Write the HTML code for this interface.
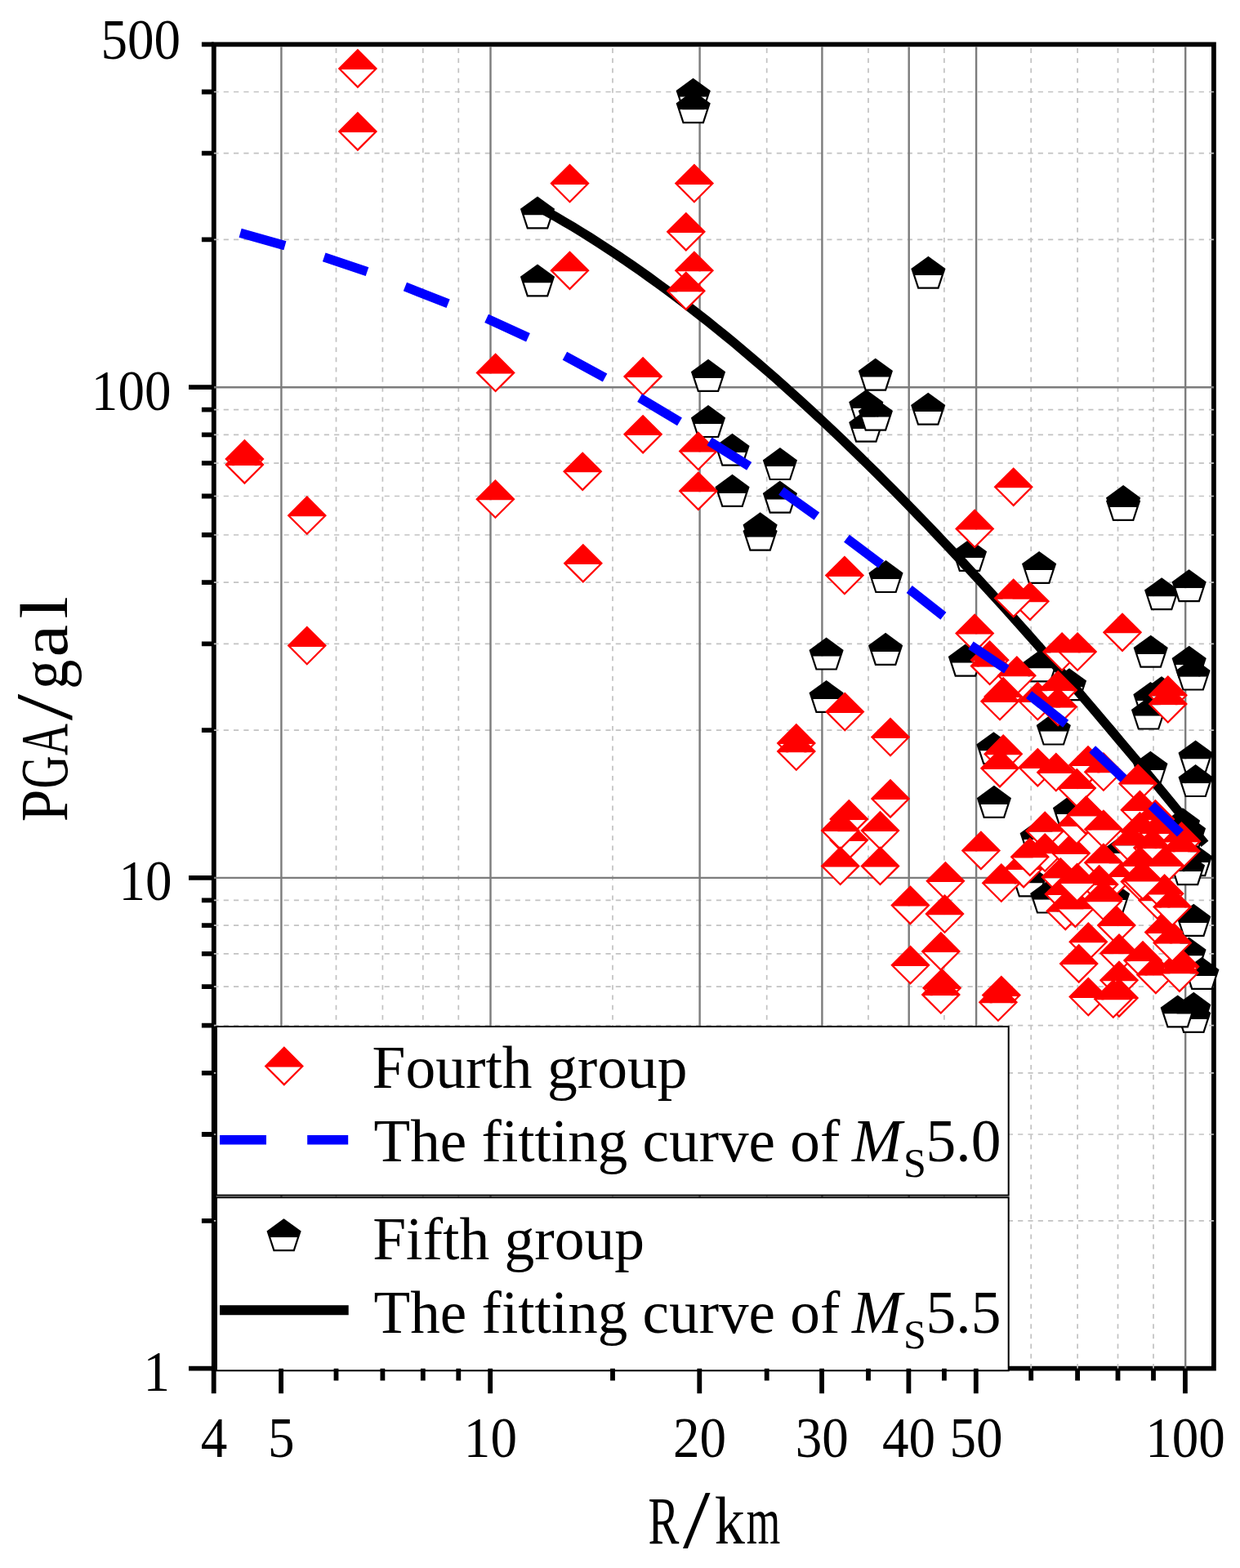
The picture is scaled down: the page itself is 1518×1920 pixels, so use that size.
<!DOCTYPE html><html><head><meta charset="utf-8"><title>PGA vs R</title><style>html,body{margin:0;padding:0;background:#fff;}svg{display:block;}text{font-family:"Liberation Serif","Noto Serif CJK SC",serif;fill:#000;}</style></head><body>
<svg width="1518" height="1920" viewBox="0 0 1518 1920">
<rect width="1518" height="1920" fill="#fff"/>
<path d="M261.8 54.3H1485.9V1675.7H261.8Z" fill="none" stroke="#000" stroke-width="5.8" stroke-linejoin="miter"/>
<path d="M411.5 59.1V1675.7M468.4 59.1V1675.7M517.8 59.1V1675.7M561.3 59.1V1675.7M750 59.1V1675.7M938.7 59.1V1675.7M1063 59.1V1675.7M1155.9 59.1V1675.7M1262.2 59.1V1675.7M1319.1 59.1V1675.7M1368.5 59.1V1675.7M1412 59.1V1675.7" stroke="#c2c2c2" stroke-width="1.7" stroke-dasharray="5.8 6.404" fill="none"/>
<path d="M261.4 1494.8H1485.9M261.4 1389H1485.9M261.4 1313.9H1485.9M261.4 1255.7H1485.9M261.4 1208.2H1485.9M261.4 1167.9H1485.9M261.4 1133.1H1485.9M261.4 1102.4H1485.9M261.4 894.1H1485.9M261.4 788.3H1485.9M261.4 713.2H1485.9M261.4 655H1485.9M261.4 607.5H1485.9M261.4 567.2H1485.9M261.4 532.4H1485.9M261.4 501.7H1485.9M261.4 293.4H1485.9M261.4 187.6H1485.9M261.4 112.5H1485.9" stroke="#c2c2c2" stroke-width="1.7" stroke-dasharray="6.2 6.109" fill="none"/>
<path d="M344.4 57.2V1675.7M600.5 57.2V1675.7M856.6 57.2V1675.7M1006.4 57.2V1675.7M1112.7 57.2V1675.7M1195.1 57.2V1675.7M1451.2 57.2V1675.7M261.8 1074.9H1485.9M261.8 474.2H1485.9" stroke="#7c7c7c" stroke-width="2.4" fill="none"/>
<g>
<path d="M1136.4 315.1L1116.6 329.5L1119 336.9L1153.8 336.9L1156.2 329.5Z" fill="#000"/><path d="M1119 336.9L1124.2 352.7L1148.6 352.7L1153.8 336.9Z" fill="#fff"/><path d="M1136.4 315.1L1116.6 329.5L1124.2 352.7L1148.6 352.7L1156.2 329.5Z" fill="none" stroke="#000" stroke-width="2.2" stroke-linejoin="miter"/>
<path d="M848.7 97L828.9 111.4L831.3 118.8L866.1 118.8L868.5 111.4Z" fill="#000"/><path d="M831.3 118.8L836.5 134.6L860.9 134.6L866.1 118.8Z" fill="#fff"/><path d="M848.7 97L828.9 111.4L836.5 134.6L860.9 134.6L868.5 111.4Z" fill="none" stroke="#000" stroke-width="2.2" stroke-linejoin="miter"/>
<path d="M848.7 112.5L828.9 126.9L831.3 134.3L866.1 134.3L868.5 126.9Z" fill="#000"/><path d="M831.3 134.3L836.5 150.1L860.9 150.1L866.1 134.3Z" fill="#fff"/><path d="M848.7 112.5L828.9 126.9L836.5 150.1L860.9 150.1L868.5 126.9Z" fill="none" stroke="#000" stroke-width="2.2" stroke-linejoin="miter"/>
<path d="M658 241.8L638.2 256.2L640.6 263.6L675.4 263.6L677.8 256.2Z" fill="#000"/><path d="M640.6 263.6L645.8 279.4L670.2 279.4L675.4 263.6Z" fill="#fff"/><path d="M658 241.8L638.2 256.2L645.8 279.4L670.2 279.4L677.8 256.2Z" fill="none" stroke="#000" stroke-width="2.2" stroke-linejoin="miter"/>
<path d="M658 324.8L638.2 339.2L640.6 346.6L675.4 346.6L677.8 339.2Z" fill="#000"/><path d="M640.6 346.6L645.8 362.4L670.2 362.4L675.4 346.6Z" fill="#fff"/><path d="M658 324.8L638.2 339.2L645.8 362.4L670.2 362.4L677.8 339.2Z" fill="none" stroke="#000" stroke-width="2.2" stroke-linejoin="miter"/>
<path d="M867 441.2L847.2 455.6L849.6 463L884.4 463L886.8 455.6Z" fill="#000"/><path d="M849.6 463L854.8 478.8L879.2 478.8L884.4 463Z" fill="#fff"/><path d="M867 441.2L847.2 455.6L854.8 478.8L879.2 478.8L886.8 455.6Z" fill="none" stroke="#000" stroke-width="2.2" stroke-linejoin="miter"/>
<path d="M867 497.4L847.2 511.8L849.6 519.2L884.4 519.2L886.8 511.8Z" fill="#000"/><path d="M849.6 519.2L854.8 535L879.2 535L884.4 519.2Z" fill="#fff"/><path d="M867 497.4L847.2 511.8L854.8 535L879.2 535L886.8 511.8Z" fill="none" stroke="#000" stroke-width="2.2" stroke-linejoin="miter"/>
<path d="M896.5 532.1L876.7 546.5L879.1 553.9L913.9 553.9L916.3 546.5Z" fill="#000"/><path d="M879.1 553.9L884.3 569.7L908.7 569.7L913.9 553.9Z" fill="#fff"/><path d="M896.5 532.1L876.7 546.5L884.3 569.7L908.7 569.7L916.3 546.5Z" fill="none" stroke="#000" stroke-width="2.2" stroke-linejoin="miter"/>
<path d="M896.5 582.2L876.7 596.6L879.1 604L913.9 604L916.3 596.6Z" fill="#000"/><path d="M879.1 604L884.3 619.8L908.7 619.8L913.9 604Z" fill="#fff"/><path d="M896.5 582.2L876.7 596.6L884.3 619.8L908.7 619.8L916.3 596.6Z" fill="none" stroke="#000" stroke-width="2.2" stroke-linejoin="miter"/>
<path d="M954.9 549.4L935.1 563.8L937.5 571.2L972.3 571.2L974.7 563.8Z" fill="#000"/><path d="M937.5 571.2L942.7 587L967.1 587L972.3 571.2Z" fill="#fff"/><path d="M954.9 549.4L935.1 563.8L942.7 587L967.1 587L974.7 563.8Z" fill="none" stroke="#000" stroke-width="2.2" stroke-linejoin="miter"/>
<path d="M954.9 590L935.1 604.4L937.5 611.8L972.3 611.8L974.7 604.4Z" fill="#000"/><path d="M937.5 611.8L942.7 627.6L967.1 627.6L972.3 611.8Z" fill="#fff"/><path d="M954.9 590L935.1 604.4L942.7 627.6L967.1 627.6L974.7 604.4Z" fill="none" stroke="#000" stroke-width="2.2" stroke-linejoin="miter"/>
<path d="M930.6 628.6L910.8 643L913.2 650.4L948 650.4L950.4 643Z" fill="#000"/><path d="M913.2 650.4L918.4 666.2L942.8 666.2L948 650.4Z" fill="#fff"/><path d="M930.6 628.6L910.8 643L918.4 666.2L942.8 666.2L950.4 643Z" fill="none" stroke="#000" stroke-width="2.2" stroke-linejoin="miter"/>
<path d="M930.6 636L910.8 650.4L913.2 657.8L948 657.8L950.4 650.4Z" fill="#000"/><path d="M913.2 657.8L918.4 673.6L942.8 673.6L948 657.8Z" fill="#fff"/><path d="M930.6 636L910.8 650.4L918.4 673.6L942.8 673.6L950.4 650.4Z" fill="none" stroke="#000" stroke-width="2.2" stroke-linejoin="miter"/>
<path d="M1071.9 440L1052.1 454.4L1054.5 461.8L1089.3 461.8L1091.7 454.4Z" fill="#000"/><path d="M1054.5 461.8L1059.7 477.6L1084.1 477.6L1089.3 461.8Z" fill="#fff"/><path d="M1071.9 440L1052.1 454.4L1059.7 477.6L1084.1 477.6L1091.7 454.4Z" fill="none" stroke="#000" stroke-width="2.2" stroke-linejoin="miter"/>
<path d="M1060.3 478.3L1040.5 492.7L1042.9 500.1L1077.7 500.1L1080.1 492.7Z" fill="#000"/><path d="M1042.9 500.1L1048.1 515.9L1072.5 515.9L1077.7 500.1Z" fill="#fff"/><path d="M1060.3 478.3L1040.5 492.7L1048.1 515.9L1072.5 515.9L1080.1 492.7Z" fill="none" stroke="#000" stroke-width="2.2" stroke-linejoin="miter"/>
<path d="M1060.3 503.1L1040.5 517.5L1042.9 524.9L1077.7 524.9L1080.1 517.5Z" fill="#000"/><path d="M1042.9 524.9L1048.1 540.7L1072.5 540.7L1077.7 524.9Z" fill="#fff"/><path d="M1060.3 503.1L1040.5 517.5L1048.1 540.7L1072.5 540.7L1080.1 517.5Z" fill="none" stroke="#000" stroke-width="2.2" stroke-linejoin="miter"/>
<path d="M1071.9 489L1052.1 503.4L1054.5 510.8L1089.3 510.8L1091.7 503.4Z" fill="#000"/><path d="M1054.5 510.8L1059.7 526.6L1084.1 526.6L1089.3 510.8Z" fill="#fff"/><path d="M1071.9 489L1052.1 503.4L1059.7 526.6L1084.1 526.6L1091.7 503.4Z" fill="none" stroke="#000" stroke-width="2.2" stroke-linejoin="miter"/>
<path d="M1136.2 482.1L1116.4 496.5L1118.8 503.9L1153.6 503.9L1156 496.5Z" fill="#000"/><path d="M1118.8 503.9L1124 519.7L1148.4 519.7L1153.6 503.9Z" fill="#fff"/><path d="M1136.2 482.1L1116.4 496.5L1124 519.7L1148.4 519.7L1156 496.5Z" fill="none" stroke="#000" stroke-width="2.2" stroke-linejoin="miter"/>
<path d="M1084.5 687.4L1064.7 701.8L1067.1 709.2L1101.9 709.2L1104.3 701.8Z" fill="#000"/><path d="M1067.1 709.2L1072.3 725L1096.7 725L1101.9 709.2Z" fill="#fff"/><path d="M1084.5 687.4L1064.7 701.8L1072.3 725L1096.7 725L1104.3 701.8Z" fill="none" stroke="#000" stroke-width="2.2" stroke-linejoin="miter"/>
<path d="M1375.1 595.4L1355.3 609.8L1357.7 617.2L1392.5 617.2L1394.9 609.8Z" fill="#000"/><path d="M1357.7 617.2L1362.9 633L1387.3 633L1392.5 617.2Z" fill="#fff"/><path d="M1375.1 595.4L1355.3 609.8L1362.9 633L1387.3 633L1394.9 609.8Z" fill="none" stroke="#000" stroke-width="2.2" stroke-linejoin="miter"/>
<path d="M1375.1 599.2L1355.3 613.6L1357.7 621L1392.5 621L1394.9 613.6Z" fill="#000"/><path d="M1357.7 621L1362.9 636.8L1387.3 636.8L1392.5 621Z" fill="#fff"/><path d="M1375.1 599.2L1355.3 613.6L1362.9 636.8L1387.3 636.8L1394.9 613.6Z" fill="none" stroke="#000" stroke-width="2.2" stroke-linejoin="miter"/>
<path d="M1187 661.3L1167.2 675.7L1169.6 683.1L1204.4 683.1L1206.8 675.7Z" fill="#000"/><path d="M1169.6 683.1L1174.8 698.9L1199.2 698.9L1204.4 683.1Z" fill="#fff"/><path d="M1187 661.3L1167.2 675.7L1174.8 698.9L1199.2 698.9L1206.8 675.7Z" fill="none" stroke="#000" stroke-width="2.2" stroke-linejoin="miter"/>
<path d="M1272.1 676.3L1252.3 690.7L1254.7 698.1L1289.5 698.1L1291.9 690.7Z" fill="#000"/><path d="M1254.7 698.1L1259.9 713.9L1284.3 713.9L1289.5 698.1Z" fill="#fff"/><path d="M1272.1 676.3L1252.3 690.7L1259.9 713.9L1284.3 713.9L1291.9 690.7Z" fill="none" stroke="#000" stroke-width="2.2" stroke-linejoin="miter"/>
<path d="M1422.1 708.6L1402.3 723L1404.7 730.4L1439.5 730.4L1441.9 723Z" fill="#000"/><path d="M1404.7 730.4L1409.9 746.2L1434.3 746.2L1439.5 730.4Z" fill="#fff"/><path d="M1422.1 708.6L1402.3 723L1409.9 746.2L1434.3 746.2L1441.9 723Z" fill="none" stroke="#000" stroke-width="2.2" stroke-linejoin="miter"/>
<path d="M1455.7 698.5L1435.9 712.9L1438.3 720.3L1473.1 720.3L1475.5 712.9Z" fill="#000"/><path d="M1438.3 720.3L1443.5 736.1L1467.9 736.1L1473.1 720.3Z" fill="#fff"/><path d="M1455.7 698.5L1435.9 712.9L1443.5 736.1L1467.9 736.1L1475.5 712.9Z" fill="none" stroke="#000" stroke-width="2.2" stroke-linejoin="miter"/>
<path d="M1408.7 779.1L1388.9 793.5L1391.3 800.9L1426.1 800.9L1428.5 793.5Z" fill="#000"/><path d="M1391.3 800.9L1396.5 816.7L1420.9 816.7L1426.1 800.9Z" fill="#fff"/><path d="M1408.7 779.1L1388.9 793.5L1396.5 816.7L1420.9 816.7L1428.5 793.5Z" fill="none" stroke="#000" stroke-width="2.2" stroke-linejoin="miter"/>
<path d="M1455.7 792.1L1435.9 806.5L1438.3 813.9L1473.1 813.9L1475.5 806.5Z" fill="#000"/><path d="M1438.3 813.9L1443.5 829.7L1467.9 829.7L1473.1 813.9Z" fill="#fff"/><path d="M1455.7 792.1L1435.9 806.5L1443.5 829.7L1467.9 829.7L1475.5 806.5Z" fill="none" stroke="#000" stroke-width="2.2" stroke-linejoin="miter"/>
<path d="M1011.6 781.9L991.8 796.3L994.2 803.7L1029 803.7L1031.4 796.3Z" fill="#000"/><path d="M994.2 803.7L999.4 819.5L1023.8 819.5L1029 803.7Z" fill="#fff"/><path d="M1011.6 781.9L991.8 796.3L999.4 819.5L1023.8 819.5L1031.4 796.3Z" fill="none" stroke="#000" stroke-width="2.2" stroke-linejoin="miter"/>
<path d="M1084.1 776.2L1064.3 790.6L1066.7 798L1101.5 798L1103.9 790.6Z" fill="#000"/><path d="M1066.7 798L1071.9 813.8L1096.3 813.8L1101.5 798Z" fill="#fff"/><path d="M1084.1 776.2L1064.3 790.6L1071.9 813.8L1096.3 813.8L1103.9 790.6Z" fill="none" stroke="#000" stroke-width="2.2" stroke-linejoin="miter"/>
<path d="M1011.6 834.3L991.8 848.7L994.2 856.1L1029 856.1L1031.4 848.7Z" fill="#000"/><path d="M994.2 856.1L999.4 871.9L1023.8 871.9L1029 856.1Z" fill="#fff"/><path d="M1011.6 834.3L991.8 848.7L999.4 871.9L1023.8 871.9L1031.4 848.7Z" fill="none" stroke="#000" stroke-width="2.2" stroke-linejoin="miter"/>
<path d="M1181.9 790L1162.1 804.4L1164.5 811.8L1199.3 811.8L1201.7 804.4Z" fill="#000"/><path d="M1164.5 811.8L1169.7 827.6L1194.1 827.6L1199.3 811.8Z" fill="#fff"/><path d="M1181.9 790L1162.1 804.4L1169.7 827.6L1194.1 827.6L1201.7 804.4Z" fill="none" stroke="#000" stroke-width="2.2" stroke-linejoin="miter"/>
<path d="M1216.4 897.6L1196.6 912L1199 919.4L1233.8 919.4L1236.2 912Z" fill="#000"/><path d="M1199 919.4L1204.2 935.2L1228.6 935.2L1233.8 919.4Z" fill="#fff"/><path d="M1216.4 897.6L1196.6 912L1204.2 935.2L1228.6 935.2L1236.2 912Z" fill="none" stroke="#000" stroke-width="2.2" stroke-linejoin="miter"/>
<path d="M1273.8 796.8L1254 811.2L1256.4 818.6L1291.2 818.6L1293.6 811.2Z" fill="#000"/><path d="M1256.4 818.6L1261.6 834.4L1286 834.4L1291.2 818.6Z" fill="#fff"/><path d="M1273.8 796.8L1254 811.2L1261.6 834.4L1286 834.4L1293.6 811.2Z" fill="none" stroke="#000" stroke-width="2.2" stroke-linejoin="miter"/>
<path d="M1309 819.6L1289.2 834L1291.6 841.4L1326.4 841.4L1328.8 834Z" fill="#000"/><path d="M1291.6 841.4L1296.8 857.2L1321.2 857.2L1326.4 841.4Z" fill="#fff"/><path d="M1309 819.6L1289.2 834L1296.8 857.2L1321.2 857.2L1328.8 834Z" fill="none" stroke="#000" stroke-width="2.2" stroke-linejoin="miter"/>
<path d="M1289.8 873.9L1270 888.3L1272.4 895.7L1307.2 895.7L1309.6 888.3Z" fill="#000"/><path d="M1272.4 895.7L1277.6 911.5L1302 911.5L1307.2 895.7Z" fill="#fff"/><path d="M1289.8 873.9L1270 888.3L1277.6 911.5L1302 911.5L1309.6 888.3Z" fill="none" stroke="#000" stroke-width="2.2" stroke-linejoin="miter"/>
<path d="M1460.6 806.9L1440.8 821.3L1443.2 828.7L1478 828.7L1480.4 821.3Z" fill="#000"/><path d="M1443.2 828.7L1448.4 844.5L1472.8 844.5L1478 828.7Z" fill="#fff"/><path d="M1460.6 806.9L1440.8 821.3L1448.4 844.5L1472.8 844.5L1480.4 821.3Z" fill="none" stroke="#000" stroke-width="2.2" stroke-linejoin="miter"/>
<path d="M1422.1 829.5L1402.3 843.9L1404.7 851.3L1439.5 851.3L1441.9 843.9Z" fill="#000"/><path d="M1404.7 851.3L1409.9 867.1L1434.3 867.1L1439.5 851.3Z" fill="#fff"/><path d="M1422.1 829.5L1402.3 843.9L1409.9 867.1L1434.3 867.1L1441.9 843.9Z" fill="none" stroke="#000" stroke-width="2.2" stroke-linejoin="miter"/>
<path d="M1408.4 836.3L1388.6 850.7L1391 858.1L1425.8 858.1L1428.2 850.7Z" fill="#000"/><path d="M1391 858.1L1396.2 873.9L1420.6 873.9L1425.8 858.1Z" fill="#fff"/><path d="M1408.4 836.3L1388.6 850.7L1396.2 873.9L1420.6 873.9L1428.2 850.7Z" fill="none" stroke="#000" stroke-width="2.2" stroke-linejoin="miter"/>
<path d="M1406 854.9L1386.2 869.3L1388.6 876.7L1423.4 876.7L1425.8 869.3Z" fill="#000"/><path d="M1388.6 876.7L1393.8 892.5L1418.2 892.5L1423.4 876.7Z" fill="#fff"/><path d="M1406 854.9L1386.2 869.3L1393.8 892.5L1418.2 892.5L1425.8 869.3Z" fill="none" stroke="#000" stroke-width="2.2" stroke-linejoin="miter"/>
<path d="M1408.4 921.1L1388.6 935.5L1391 942.9L1425.8 942.9L1428.2 935.5Z" fill="#000"/><path d="M1391 942.9L1396.2 958.7L1420.6 958.7L1425.8 942.9Z" fill="#fff"/><path d="M1408.4 921.1L1388.6 935.5L1396.2 958.7L1420.6 958.7L1428.2 935.5Z" fill="none" stroke="#000" stroke-width="2.2" stroke-linejoin="miter"/>
<path d="M1463.6 907.8L1443.8 922.2L1446.2 929.6L1481 929.6L1483.4 922.2Z" fill="#000"/><path d="M1446.2 929.6L1451.4 945.4L1475.8 945.4L1481 929.6Z" fill="#fff"/><path d="M1463.6 907.8L1443.8 922.2L1451.4 945.4L1475.8 945.4L1483.4 922.2Z" fill="none" stroke="#000" stroke-width="2.2" stroke-linejoin="miter"/>
<path d="M1463.6 937.4L1443.8 951.8L1446.2 959.2L1481 959.2L1483.4 951.8Z" fill="#000"/><path d="M1446.2 959.2L1451.4 975L1475.8 975L1481 959.2Z" fill="#fff"/><path d="M1463.6 937.4L1443.8 951.8L1451.4 975L1475.8 975L1483.4 951.8Z" fill="none" stroke="#000" stroke-width="2.2" stroke-linejoin="miter"/>
<path d="M1216.9 963.2L1197.1 977.6L1199.5 985L1234.3 985L1236.7 977.6Z" fill="#000"/><path d="M1199.5 985L1204.7 1000.8L1229.1 1000.8L1234.3 985Z" fill="#fff"/><path d="M1216.9 963.2L1197.1 977.6L1204.7 1000.8L1229.1 1000.8L1236.7 977.6Z" fill="none" stroke="#000" stroke-width="2.2" stroke-linejoin="miter"/>
<path d="M1310 975.2L1290.2 989.6L1292.6 997L1327.4 997L1329.8 989.6Z" fill="#000"/><path d="M1292.6 997L1297.8 1012.8L1322.2 1012.8L1327.4 997Z" fill="#fff"/><path d="M1310 975.2L1290.2 989.6L1297.8 1012.8L1322.2 1012.8L1329.8 989.6Z" fill="none" stroke="#000" stroke-width="2.2" stroke-linejoin="miter"/>
<path d="M1269.7 1006.3L1249.9 1020.7L1252.3 1028.1L1287.1 1028.1L1289.5 1020.7Z" fill="#000"/><path d="M1252.3 1028.1L1257.5 1043.9L1281.9 1043.9L1287.1 1028.1Z" fill="#fff"/><path d="M1269.7 1006.3L1249.9 1020.7L1257.5 1043.9L1281.9 1043.9L1289.5 1020.7Z" fill="none" stroke="#000" stroke-width="2.2" stroke-linejoin="miter"/>
<path d="M1260 1059.7L1240.2 1074.1L1242.6 1081.5L1277.4 1081.5L1279.8 1074.1Z" fill="#000"/><path d="M1242.6 1081.5L1247.8 1097.3L1272.2 1097.3L1277.4 1081.5Z" fill="#fff"/><path d="M1260 1059.7L1240.2 1074.1L1247.8 1097.3L1272.2 1097.3L1279.8 1074.1Z" fill="none" stroke="#000" stroke-width="2.2" stroke-linejoin="miter"/>
<path d="M1282.2 1079.9L1262.4 1094.3L1264.8 1101.7L1299.6 1101.7L1302 1094.3Z" fill="#000"/><path d="M1264.8 1101.7L1270 1117.5L1294.4 1117.5L1299.6 1101.7Z" fill="#fff"/><path d="M1282.2 1079.9L1262.4 1094.3L1270 1117.5L1294.4 1117.5L1302 1094.3Z" fill="none" stroke="#000" stroke-width="2.2" stroke-linejoin="miter"/>
<path d="M1448 990.7L1428.2 1005.1L1430.6 1012.5L1465.4 1012.5L1467.8 1005.1Z" fill="#000"/><path d="M1430.6 1012.5L1435.8 1028.3L1460.2 1028.3L1465.4 1012.5Z" fill="#fff"/><path d="M1448 990.7L1428.2 1005.1L1435.8 1028.3L1460.2 1028.3L1467.8 1005.1Z" fill="none" stroke="#000" stroke-width="2.2" stroke-linejoin="miter"/>
<path d="M1455 1000.2L1435.2 1014.6L1437.6 1022L1472.4 1022L1474.8 1014.6Z" fill="#000"/><path d="M1437.6 1022L1442.8 1037.8L1467.2 1037.8L1472.4 1022Z" fill="#fff"/><path d="M1455 1000.2L1435.2 1014.6L1442.8 1037.8L1467.2 1037.8L1474.8 1014.6Z" fill="none" stroke="#000" stroke-width="2.2" stroke-linejoin="miter"/>
<path d="M1463 1034.5L1443.2 1048.9L1445.6 1056.3L1480.4 1056.3L1482.8 1048.9Z" fill="#000"/><path d="M1445.6 1056.3L1450.8 1072.1L1475.2 1072.1L1480.4 1056.3Z" fill="#fff"/><path d="M1463 1034.5L1443.2 1048.9L1450.8 1072.1L1475.2 1072.1L1482.8 1048.9Z" fill="none" stroke="#000" stroke-width="2.2" stroke-linejoin="miter"/>
<path d="M1454 1045.5L1434.2 1059.9L1436.6 1067.3L1471.4 1067.3L1473.8 1059.9Z" fill="#000"/><path d="M1436.6 1067.3L1441.8 1083.1L1466.2 1083.1L1471.4 1067.3Z" fill="#fff"/><path d="M1454 1045.5L1434.2 1059.9L1441.8 1083.1L1466.2 1083.1L1473.8 1059.9Z" fill="none" stroke="#000" stroke-width="2.2" stroke-linejoin="miter"/>
<path d="M1375 1023.2L1355.2 1037.6L1357.6 1045L1392.4 1045L1394.8 1037.6Z" fill="#000"/><path d="M1357.6 1045L1362.8 1060.8L1387.2 1060.8L1392.4 1045Z" fill="#fff"/><path d="M1375 1023.2L1355.2 1037.6L1362.8 1060.8L1387.2 1060.8L1394.8 1037.6Z" fill="none" stroke="#000" stroke-width="2.2" stroke-linejoin="miter"/>
<path d="M1461.3 1108.2L1441.5 1122.6L1443.9 1130L1478.7 1130L1481.1 1122.6Z" fill="#000"/><path d="M1443.9 1130L1449.1 1145.8L1473.5 1145.8L1478.7 1130Z" fill="#fff"/><path d="M1461.3 1108.2L1441.5 1122.6L1449.1 1145.8L1473.5 1145.8L1481.1 1122.6Z" fill="none" stroke="#000" stroke-width="2.2" stroke-linejoin="miter"/>
<path d="M1455.5 1148.8L1435.7 1163.2L1438.1 1170.6L1472.9 1170.6L1475.3 1163.2Z" fill="#000"/><path d="M1438.1 1170.6L1443.3 1186.4L1467.7 1186.4L1472.9 1170.6Z" fill="#fff"/><path d="M1455.5 1148.8L1435.7 1163.2L1443.3 1186.4L1467.7 1186.4L1475.3 1163.2Z" fill="none" stroke="#000" stroke-width="2.2" stroke-linejoin="miter"/>
<path d="M1471.4 1173.2L1451.6 1187.6L1454 1195L1488.8 1195L1491.2 1187.6Z" fill="#000"/><path d="M1454 1195L1459.2 1210.8L1483.6 1210.8L1488.8 1195Z" fill="#fff"/><path d="M1471.4 1173.2L1451.6 1187.6L1459.2 1210.8L1483.6 1210.8L1491.2 1187.6Z" fill="none" stroke="#000" stroke-width="2.2" stroke-linejoin="miter"/>
<path d="M1461.3 1216.2L1441.5 1230.6L1443.9 1238L1478.7 1238L1481.1 1230.6Z" fill="#000"/><path d="M1443.9 1238L1449.1 1253.8L1473.5 1253.8L1478.7 1238Z" fill="#fff"/><path d="M1461.3 1216.2L1441.5 1230.6L1449.1 1253.8L1473.5 1253.8L1481.1 1230.6Z" fill="none" stroke="#000" stroke-width="2.2" stroke-linejoin="miter"/>
<path d="M1461.3 1226.2L1441.5 1240.6L1443.9 1248L1478.7 1248L1481.1 1240.6Z" fill="#000"/><path d="M1443.9 1248L1449.1 1263.8L1473.5 1263.8L1478.7 1248Z" fill="#fff"/><path d="M1461.3 1226.2L1441.5 1240.6L1449.1 1263.8L1473.5 1263.8L1481.1 1240.6Z" fill="none" stroke="#000" stroke-width="2.2" stroke-linejoin="miter"/>
<path d="M1441.7 1219.8L1421.9 1234.2L1424.3 1241.6L1459.1 1241.6L1461.5 1234.2Z" fill="#000"/><path d="M1424.3 1241.6L1429.5 1257.4L1453.9 1257.4L1459.1 1241.6Z" fill="#fff"/><path d="M1441.7 1219.8L1421.9 1234.2L1429.5 1257.4L1453.9 1257.4L1461.5 1234.2Z" fill="none" stroke="#000" stroke-width="2.2" stroke-linejoin="miter"/>
<path d="M1362 1080.2L1342.2 1094.6L1344.6 1102L1379.4 1102L1381.8 1094.6Z" fill="#000"/><path d="M1344.6 1102L1349.8 1117.8L1374.2 1117.8L1379.4 1102Z" fill="#fff"/><path d="M1362 1080.2L1342.2 1094.6L1349.8 1117.8L1374.2 1117.8L1381.8 1094.6Z" fill="none" stroke="#000" stroke-width="2.2" stroke-linejoin="miter"/>
</g>
<path d="M660 253.9L670.3 259.7L680.6 265.5L690.9 271.6L701.3 277.7L711.6 284L721.9 290.4L732.2 297L742.5 303.7L752.8 310.5L763.2 317.4L773.5 324.5L783.8 331.7L794.1 339L804.4 346.5L814.7 354L825.1 361.7L835.4 369.5L845.7 377.4L856 385.5L866.3 393.6L876.6 401.9L887 410.3L897.3 418.7L907.6 427.3L917.9 436.1L928.2 444.9L938.5 453.8L948.9 462.8L959.2 472L969.5 481.2L979.8 490.5L990.1 500L1000.4 509.5L1010.8 519.1L1021.1 528.9L1031.4 538.7L1041.7 548.6L1052 558.6L1062.3 568.7L1072.7 578.9L1083 589.2L1093.3 599.6L1103.6 610L1113.9 620.6L1124.2 631.2L1134.6 641.9L1144.9 652.7L1155.2 663.6L1165.5 674.5L1175.8 685.5L1186.1 696.6L1196.5 707.8L1206.8 719.1L1217.1 730.4L1227.4 741.8L1237.7 753.2L1248 764.8L1258.4 776.4L1268.7 788L1279 799.8L1289.3 811.6L1299.6 823.4L1309.9 835.3L1320.3 847.3L1330.6 859.4L1340.9 871.4L1351.2 883.6L1361.5 895.8L1371.8 908.1L1382.2 920.4L1392.5 932.7L1402.8 945.2L1413.1 957.6L1423.4 970.1L1433.7 982.7L1444.1 995.3L1454.4 1007.9L1464.7 1020.6L1475 1033.3" fill="none" stroke="#000" stroke-width="11.4" stroke-linejoin="round"/>
<g>
<path d="M416.6 85.3L415.3 84L437.9 61.4L460.5 84L459.2 85.3Z" fill="#f00"/><path d="M416.6 85.3L437.9 106.6L459.2 85.3Z" fill="#fff"/><path d="M437.9 61.4L460.5 84L437.9 106.6L415.3 84Z" fill="none" stroke="#f00" stroke-width="2.2"/>
<path d="M416.6 162.3L415.3 161L437.9 138.4L460.5 161L459.2 162.3Z" fill="#f00"/><path d="M416.6 162.3L437.9 183.6L459.2 162.3Z" fill="#fff"/><path d="M437.9 138.4L460.5 161L437.9 183.6L415.3 161Z" fill="none" stroke="#f00" stroke-width="2.2"/>
<path d="M278.1 563.2L276.8 561.9L299.4 539.3L322 561.9L320.7 563.2Z" fill="#f00"/><path d="M278.1 563.2L299.4 584.5L320.7 563.2Z" fill="#fff"/><path d="M299.4 539.3L322 561.9L299.4 584.5L276.8 561.9Z" fill="none" stroke="#f00" stroke-width="2.2"/>
<path d="M278.1 570.3L276.8 569L299.4 546.4L322 569L320.7 570.3Z" fill="#f00"/><path d="M278.1 570.3L299.4 591.6L320.7 570.3Z" fill="#fff"/><path d="M299.4 546.4L322 569L299.4 591.6L276.8 569Z" fill="none" stroke="#f00" stroke-width="2.2"/>
<path d="M354.5 632.5L353.2 631.2L375.8 608.6L398.4 631.2L397.1 632.5Z" fill="#f00"/><path d="M354.5 632.5L375.8 653.8L397.1 632.5Z" fill="#fff"/><path d="M375.8 608.6L398.4 631.2L375.8 653.8L353.2 631.2Z" fill="none" stroke="#f00" stroke-width="2.2"/>
<path d="M354.5 791.9L353.2 790.6L375.8 768L398.4 790.6L397.1 791.9Z" fill="#f00"/><path d="M354.5 791.9L375.8 813.2L397.1 791.9Z" fill="#fff"/><path d="M375.8 768L398.4 790.6L375.8 813.2L353.2 790.6Z" fill="none" stroke="#f00" stroke-width="2.2"/>
<path d="M585.1 612.5L583.8 611.2L606.4 588.6L629 611.2L627.7 612.5Z" fill="#f00"/><path d="M585.1 612.5L606.4 633.8L627.7 612.5Z" fill="#fff"/><path d="M606.4 588.6L629 611.2L606.4 633.8L583.8 611.2Z" fill="none" stroke="#f00" stroke-width="2.2"/>
<path d="M676.2 225.9L674.9 224.6L697.5 202L720.1 224.6L718.8 225.9Z" fill="#f00"/><path d="M676.2 225.9L697.5 247.2L718.8 225.9Z" fill="#fff"/><path d="M697.5 202L720.1 224.6L697.5 247.2L674.9 224.6Z" fill="none" stroke="#f00" stroke-width="2.2"/>
<path d="M828.6 225.9L827.3 224.6L849.9 202L872.5 224.6L871.2 225.9Z" fill="#f00"/><path d="M828.6 225.9L849.9 247.2L871.2 225.9Z" fill="#fff"/><path d="M849.9 202L872.5 224.6L849.9 247.2L827.3 224.6Z" fill="none" stroke="#f00" stroke-width="2.2"/>
<path d="M818.5 285.1L817.2 283.8L839.8 261.2L862.4 283.8L861.1 285.1Z" fill="#f00"/><path d="M818.5 285.1L839.8 306.4L861.1 285.1Z" fill="#fff"/><path d="M839.8 261.2L862.4 283.8L839.8 306.4L817.2 283.8Z" fill="none" stroke="#f00" stroke-width="2.2"/>
<path d="M676.2 332.6L674.9 331.3L697.5 308.7L720.1 331.3L718.8 332.6Z" fill="#f00"/><path d="M676.2 332.6L697.5 353.9L718.8 332.6Z" fill="#fff"/><path d="M697.5 308.7L720.1 331.3L697.5 353.9L674.9 331.3Z" fill="none" stroke="#f00" stroke-width="2.2"/>
<path d="M828.6 332.6L827.3 331.3L849.9 308.7L872.5 331.3L871.2 332.6Z" fill="#f00"/><path d="M828.6 332.6L849.9 353.9L871.2 332.6Z" fill="#fff"/><path d="M849.9 308.7L872.5 331.3L849.9 353.9L827.3 331.3Z" fill="none" stroke="#f00" stroke-width="2.2"/>
<path d="M818.5 357.6L817.2 356.3L839.8 333.7L862.4 356.3L861.1 357.6Z" fill="#f00"/><path d="M818.5 357.6L839.8 378.9L861.1 357.6Z" fill="#fff"/><path d="M839.8 333.7L862.4 356.3L839.8 378.9L817.2 356.3Z" fill="none" stroke="#f00" stroke-width="2.2"/>
<path d="M585.3 457.7L584 456.4L606.6 433.8L629.2 456.4L627.9 457.7Z" fill="#f00"/><path d="M585.3 457.7L606.6 479L627.9 457.7Z" fill="#fff"/><path d="M606.6 433.8L629.2 456.4L606.6 479L584 456.4Z" fill="none" stroke="#f00" stroke-width="2.2"/>
<path d="M765.8 462.2L764.5 460.9L787.1 438.3L809.7 460.9L808.4 462.2Z" fill="#f00"/><path d="M765.8 462.2L787.1 483.5L808.4 462.2Z" fill="#fff"/><path d="M787.1 438.3L809.7 460.9L787.1 483.5L764.5 460.9Z" fill="none" stroke="#f00" stroke-width="2.2"/>
<path d="M765.8 533.1L764.5 531.8L787.1 509.2L809.7 531.8L808.4 533.1Z" fill="#f00"/><path d="M765.8 533.1L787.1 554.4L808.4 533.1Z" fill="#fff"/><path d="M787.1 509.2L809.7 531.8L787.1 554.4L764.5 531.8Z" fill="none" stroke="#f00" stroke-width="2.2"/>
<path d="M833.5 553.7L832.2 552.4L854.8 529.8L877.4 552.4L876.1 553.7Z" fill="#f00"/><path d="M833.5 553.7L854.8 575L876.1 553.7Z" fill="#fff"/><path d="M854.8 529.8L877.4 552.4L854.8 575L832.2 552.4Z" fill="none" stroke="#f00" stroke-width="2.2"/>
<path d="M833.5 602.6L832.2 601.3L854.8 578.7L877.4 601.3L876.1 602.6Z" fill="#f00"/><path d="M833.5 602.6L854.8 623.9L876.1 602.6Z" fill="#fff"/><path d="M854.8 578.7L877.4 601.3L854.8 623.9L832.2 601.3Z" fill="none" stroke="#f00" stroke-width="2.2"/>
<path d="M1012.6 705.9L1011.3 704.6L1033.9 682L1056.5 704.6L1055.2 705.9Z" fill="#f00"/><path d="M1012.6 705.9L1033.9 727.2L1055.2 705.9Z" fill="#fff"/><path d="M1033.9 682L1056.5 704.6L1033.9 727.2L1011.3 704.6Z" fill="none" stroke="#f00" stroke-width="2.2"/>
<path d="M1219.4 597.6L1218.1 596.3L1240.7 573.7L1263.3 596.3L1262 597.6Z" fill="#f00"/><path d="M1219.4 597.6L1240.7 618.9L1262 597.6Z" fill="#fff"/><path d="M1240.7 573.7L1263.3 596.3L1240.7 618.9L1218.1 596.3Z" fill="none" stroke="#f00" stroke-width="2.2"/>
<path d="M1171.9 648.7L1170.6 647.4L1193.2 624.8L1215.8 647.4L1214.5 648.7Z" fill="#f00"/><path d="M1171.9 648.7L1193.2 670L1214.5 648.7Z" fill="#fff"/><path d="M1193.2 624.8L1215.8 647.4L1193.2 670L1170.6 647.4Z" fill="none" stroke="#f00" stroke-width="2.2"/>
<path d="M1239.6 737.6L1238.3 736.3L1260.9 713.7L1283.5 736.3L1282.2 737.6Z" fill="#f00"/><path d="M1239.6 737.6L1260.9 758.9L1282.2 737.6Z" fill="#fff"/><path d="M1260.9 713.7L1283.5 736.3L1260.9 758.9L1238.3 736.3Z" fill="none" stroke="#f00" stroke-width="2.2"/>
<path d="M1219.4 733.8L1218.1 732.5L1240.7 709.9L1263.3 732.5L1262 733.8Z" fill="#f00"/><path d="M1219.4 733.8L1240.7 755.1L1262 733.8Z" fill="#fff"/><path d="M1240.7 709.9L1263.3 732.5L1240.7 755.1L1218.1 732.5Z" fill="none" stroke="#f00" stroke-width="2.2"/>
<path d="M1171.9 776.8L1170.6 775.5L1193.2 752.9L1215.8 775.5L1214.5 776.8Z" fill="#f00"/><path d="M1171.9 776.8L1193.2 798.1L1214.5 776.8Z" fill="#fff"/><path d="M1193.2 752.9L1215.8 775.5L1193.2 798.1L1170.6 775.5Z" fill="none" stroke="#f00" stroke-width="2.2"/>
<path d="M1352.7 775.6L1351.4 774.3L1374 751.7L1396.6 774.3L1395.3 775.6Z" fill="#f00"/><path d="M1352.7 775.6L1374 796.9L1395.3 775.6Z" fill="#fff"/><path d="M1374 751.7L1396.6 774.3L1374 796.9L1351.4 774.3Z" fill="none" stroke="#f00" stroke-width="2.2"/>
<path d="M1278.8 799.4L1277.5 798.1L1300.1 775.5L1322.7 798.1L1321.4 799.4Z" fill="#f00"/><path d="M1278.8 799.4L1300.1 820.7L1321.4 799.4Z" fill="#fff"/><path d="M1300.1 775.5L1322.7 798.1L1300.1 820.7L1277.5 798.1Z" fill="none" stroke="#f00" stroke-width="2.2"/>
<path d="M1297.8 799.4L1296.5 798.1L1319.1 775.5L1341.7 798.1L1340.4 799.4Z" fill="#f00"/><path d="M1297.8 799.4L1319.1 820.7L1340.4 799.4Z" fill="#fff"/><path d="M1319.1 775.5L1341.7 798.1L1319.1 820.7L1296.5 798.1Z" fill="none" stroke="#f00" stroke-width="2.2"/>
<path d="M1013 872.9L1011.7 871.6L1034.3 849L1056.9 871.6L1055.6 872.9Z" fill="#f00"/><path d="M1013 872.9L1034.3 894.2L1055.6 872.9Z" fill="#fff"/><path d="M1034.3 849L1056.9 871.6L1034.3 894.2L1011.7 871.6Z" fill="none" stroke="#f00" stroke-width="2.2"/>
<path d="M1068.7 903.9L1067.4 902.6L1090 880L1112.6 902.6L1111.3 903.9Z" fill="#f00"/><path d="M1068.7 903.9L1090 925.2L1111.3 903.9Z" fill="#fff"/><path d="M1090 880L1112.6 902.6L1090 925.2L1067.4 902.6Z" fill="none" stroke="#f00" stroke-width="2.2"/>
<path d="M953.5 911.3L952.2 910L974.8 887.4L997.4 910L996.1 911.3Z" fill="#f00"/><path d="M953.5 911.3L974.8 932.6L996.1 911.3Z" fill="#fff"/><path d="M974.8 887.4L997.4 910L974.8 932.6L952.2 910Z" fill="none" stroke="#f00" stroke-width="2.2"/>
<path d="M953.5 921.4L952.2 920.1L974.8 897.5L997.4 920.1L996.1 921.4Z" fill="#f00"/><path d="M953.5 921.4L974.8 942.7L996.1 921.4Z" fill="#fff"/><path d="M974.8 897.5L997.4 920.1L974.8 942.7L952.2 920.1Z" fill="none" stroke="#f00" stroke-width="2.2"/>
<path d="M1068.7 979.3L1067.4 978L1090 955.4L1112.6 978L1111.3 979.3Z" fill="#f00"/><path d="M1068.7 979.3L1090 1000.6L1111.3 979.3Z" fill="#fff"/><path d="M1090 955.4L1112.6 978L1090 1000.6L1067.4 978Z" fill="none" stroke="#f00" stroke-width="2.2"/>
<path d="M1190.3 809.5L1189 808.2L1211.6 785.6L1234.2 808.2L1232.9 809.5Z" fill="#f00"/><path d="M1190.3 809.5L1211.6 830.8L1232.9 809.5Z" fill="#fff"/><path d="M1211.6 785.6L1234.2 808.2L1211.6 830.8L1189 808.2Z" fill="none" stroke="#f00" stroke-width="2.2"/>
<path d="M1190.3 816.7L1189 815.4L1211.6 792.8L1234.2 815.4L1232.9 816.7Z" fill="#f00"/><path d="M1190.3 816.7L1211.6 838L1232.9 816.7Z" fill="#fff"/><path d="M1211.6 792.8L1234.2 815.4L1211.6 838L1189 815.4Z" fill="none" stroke="#f00" stroke-width="2.2"/>
<path d="M1223.5 828.5L1222.2 827.2L1244.8 804.6L1267.4 827.2L1266.1 828.5Z" fill="#f00"/><path d="M1223.5 828.5L1244.8 849.8L1266.1 828.5Z" fill="#fff"/><path d="M1244.8 804.6L1267.4 827.2L1244.8 849.8L1222.2 827.2Z" fill="none" stroke="#f00" stroke-width="2.2"/>
<path d="M1206.9 854.3L1205.6 853L1228.2 830.4L1250.8 853L1249.5 854.3Z" fill="#f00"/><path d="M1206.9 854.3L1228.2 875.6L1249.5 854.3Z" fill="#fff"/><path d="M1228.2 830.4L1250.8 853L1228.2 875.6L1205.6 853Z" fill="none" stroke="#f00" stroke-width="2.2"/>
<path d="M1202.7 860L1201.4 858.7L1224 836.1L1246.6 858.7L1245.3 860Z" fill="#f00"/><path d="M1202.7 860L1224 881.3L1245.3 860Z" fill="#fff"/><path d="M1224 836.1L1246.6 858.7L1224 881.3L1201.4 858.7Z" fill="none" stroke="#f00" stroke-width="2.2"/>
<path d="M1249 860L1247.7 858.7L1270.3 836.1L1292.9 858.7L1291.6 860Z" fill="#f00"/><path d="M1249 860L1270.3 881.3L1291.6 860Z" fill="#fff"/><path d="M1270.3 836.1L1292.9 858.7L1270.3 881.3L1247.7 858.7Z" fill="none" stroke="#f00" stroke-width="2.2"/>
<path d="M1273.9 846.3L1272.6 845L1295.2 822.4L1317.8 845L1316.5 846.3Z" fill="#f00"/><path d="M1273.9 846.3L1295.2 867.6L1316.5 846.3Z" fill="#fff"/><path d="M1295.2 822.4L1317.8 845L1295.2 867.6L1272.6 845Z" fill="none" stroke="#f00" stroke-width="2.2"/>
<path d="M1273.9 866.8L1272.6 865.5L1295.2 842.9L1317.8 865.5L1316.5 866.8Z" fill="#f00"/><path d="M1273.9 866.8L1295.2 888.1L1316.5 866.8Z" fill="#fff"/><path d="M1295.2 842.9L1317.8 865.5L1295.2 888.1L1272.6 865.5Z" fill="none" stroke="#f00" stroke-width="2.2"/>
<path d="M1206.9 924.5L1205.6 923.2L1228.2 900.6L1250.8 923.2L1249.5 924.5Z" fill="#f00"/><path d="M1206.9 924.5L1228.2 945.8L1249.5 924.5Z" fill="#fff"/><path d="M1228.2 900.6L1250.8 923.2L1228.2 945.8L1205.6 923.2Z" fill="none" stroke="#f00" stroke-width="2.2"/>
<path d="M1202.7 942.1L1201.4 940.8L1224 918.2L1246.6 940.8L1245.3 942.1Z" fill="#f00"/><path d="M1202.7 942.1L1224 963.4L1245.3 942.1Z" fill="#fff"/><path d="M1224 918.2L1246.6 940.8L1224 963.4L1201.4 940.8Z" fill="none" stroke="#f00" stroke-width="2.2"/>
<path d="M1249 941.1L1247.7 939.8L1270.3 917.2L1292.9 939.8L1291.6 941.1Z" fill="#f00"/><path d="M1249 941.1L1270.3 962.4L1291.6 941.1Z" fill="#fff"/><path d="M1270.3 917.2L1292.9 939.8L1270.3 962.4L1247.7 939.8Z" fill="none" stroke="#f00" stroke-width="2.2"/>
<path d="M1271.5 947L1270.2 945.7L1292.8 923.1L1315.4 945.7L1314.1 947Z" fill="#f00"/><path d="M1271.5 947L1292.8 968.3L1314.1 947Z" fill="#fff"/><path d="M1292.8 923.1L1315.4 945.7L1292.8 968.3L1270.2 945.7Z" fill="none" stroke="#f00" stroke-width="2.2"/>
<path d="M1310.7 938.1L1309.4 936.8L1332 914.2L1354.6 936.8L1353.3 938.1Z" fill="#f00"/><path d="M1310.7 938.1L1332 959.4L1353.3 938.1Z" fill="#fff"/><path d="M1332 914.2L1354.6 936.8L1332 959.4L1309.4 936.8Z" fill="none" stroke="#f00" stroke-width="2.2"/>
<path d="M1408.5 852.5L1407.2 851.2L1429.8 828.6L1452.4 851.2L1451.1 852.5Z" fill="#f00"/><path d="M1408.5 852.5L1429.8 873.8L1451.1 852.5Z" fill="#fff"/><path d="M1429.8 828.6L1452.4 851.2L1429.8 873.8L1407.2 851.2Z" fill="none" stroke="#f00" stroke-width="2.2"/>
<path d="M1408.5 863.2L1407.2 861.9L1429.8 839.3L1452.4 861.9L1451.1 863.2Z" fill="#f00"/><path d="M1408.5 863.2L1429.8 884.5L1451.1 863.2Z" fill="#fff"/><path d="M1429.8 839.3L1452.4 861.9L1429.8 884.5L1407.2 861.9Z" fill="none" stroke="#f00" stroke-width="2.2"/>
<path d="M692.5 691.1L691.2 689.8L713.8 667.2L736.4 689.8L735.1 691.1Z" fill="#f00"/><path d="M692.5 691.1L713.8 712.4L735.1 691.1Z" fill="#fff"/><path d="M713.8 667.2L736.4 689.8L713.8 712.4L691.2 689.8Z" fill="none" stroke="#f00" stroke-width="2.2"/>
<path d="M691.9 578.6L690.6 577.3L713.2 554.7L735.8 577.3L734.5 578.6Z" fill="#f00"/><path d="M691.9 578.6L713.2 599.9L734.5 578.6Z" fill="#fff"/><path d="M713.2 554.7L735.8 577.3L713.2 599.9L690.6 577.3Z" fill="none" stroke="#f00" stroke-width="2.2"/>
<path d="M1297 966.3L1295.7 965L1318.3 942.4L1340.9 965L1339.6 966.3Z" fill="#f00"/><path d="M1297 966.3L1318.3 987.6L1339.6 966.3Z" fill="#fff"/><path d="M1318.3 942.4L1340.9 965L1318.3 987.6L1295.7 965Z" fill="none" stroke="#f00" stroke-width="2.2"/>
<path d="M1179.6 1042.8L1178.3 1041.5L1200.9 1018.9L1223.5 1041.5L1222.2 1042.8Z" fill="#f00"/><path d="M1179.6 1042.8L1200.9 1064.1L1222.2 1042.8Z" fill="#fff"/><path d="M1200.9 1018.9L1223.5 1041.5L1200.9 1064.1L1178.3 1041.5Z" fill="none" stroke="#f00" stroke-width="2.2"/>
<path d="M1257.9 1018.7L1256.6 1017.4L1279.2 994.8L1301.8 1017.4L1300.5 1018.7Z" fill="#f00"/><path d="M1257.9 1018.7L1279.2 1040L1300.5 1018.7Z" fill="#fff"/><path d="M1279.2 994.8L1301.8 1017.4L1279.2 1040L1256.6 1017.4Z" fill="none" stroke="#f00" stroke-width="2.2"/>
<path d="M1231.8 1065.1L1230.5 1063.8L1253.1 1041.2L1275.7 1063.8L1274.4 1065.1Z" fill="#f00"/><path d="M1231.8 1065.1L1253.1 1086.4L1274.4 1065.1Z" fill="#fff"/><path d="M1253.1 1041.2L1275.7 1063.8L1253.1 1086.4L1230.5 1063.8Z" fill="none" stroke="#f00" stroke-width="2.2"/>
<path d="M1257.9 1045.4L1256.6 1044.1L1279.2 1021.5L1301.8 1044.1L1300.5 1045.4Z" fill="#f00"/><path d="M1257.9 1045.4L1279.2 1066.7L1300.5 1045.4Z" fill="#fff"/><path d="M1279.2 1021.5L1301.8 1044.1L1279.2 1066.7L1256.6 1044.1Z" fill="none" stroke="#f00" stroke-width="2.2"/>
<path d="M1239.5 1050.6L1238.2 1049.3L1260.8 1026.7L1283.4 1049.3L1282.1 1050.6Z" fill="#f00"/><path d="M1239.5 1050.6L1260.8 1071.9L1282.1 1050.6Z" fill="#fff"/><path d="M1260.8 1026.7L1283.4 1049.3L1260.8 1071.9L1238.2 1049.3Z" fill="none" stroke="#f00" stroke-width="2.2"/>
<path d="M1289.9 1046L1288.6 1044.7L1311.2 1022.1L1333.8 1044.7L1332.5 1046Z" fill="#f00"/><path d="M1289.9 1046L1311.2 1067.3L1332.5 1046Z" fill="#fff"/><path d="M1311.2 1022.1L1333.8 1044.7L1311.2 1067.3L1288.6 1044.7Z" fill="none" stroke="#f00" stroke-width="2.2"/>
<path d="M1296.7 1011.9L1295.4 1010.6L1318 988L1340.6 1010.6L1339.3 1011.9Z" fill="#f00"/><path d="M1296.7 1011.9L1318 1033.2L1339.3 1011.9Z" fill="#fff"/><path d="M1318 988L1340.6 1010.6L1318 1033.2L1295.4 1010.6Z" fill="none" stroke="#f00" stroke-width="2.2"/>
<path d="M1308.3 1000.1L1307 998.8L1329.6 976.2L1352.2 998.8L1350.9 1000.1Z" fill="#f00"/><path d="M1308.3 1000.1L1329.6 1021.4L1350.9 1000.1Z" fill="#fff"/><path d="M1329.6 976.2L1352.2 998.8L1329.6 1021.4L1307 998.8Z" fill="none" stroke="#f00" stroke-width="2.2"/>
<path d="M1204.5 1082.5L1203.2 1081.2L1225.8 1058.6L1248.4 1081.2L1247.1 1082.5Z" fill="#f00"/><path d="M1204.5 1082.5L1225.8 1103.8L1247.1 1082.5Z" fill="#fff"/><path d="M1225.8 1058.6L1248.4 1081.2L1225.8 1103.8L1203.2 1081.2Z" fill="none" stroke="#f00" stroke-width="2.2"/>
<path d="M1136.1 1080.1L1134.8 1078.8L1157.4 1056.2L1180 1078.8L1178.7 1080.1Z" fill="#f00"/><path d="M1136.1 1080.1L1157.4 1101.4L1178.7 1080.1Z" fill="#fff"/><path d="M1157.4 1056.2L1180 1078.8L1157.4 1101.4L1134.8 1078.8Z" fill="none" stroke="#f00" stroke-width="2.2"/>
<path d="M1277.1 1075.4L1275.8 1074.1L1298.4 1051.5L1321 1074.1L1319.7 1075.4Z" fill="#f00"/><path d="M1277.1 1075.4L1298.4 1096.7L1319.7 1075.4Z" fill="#fff"/><path d="M1298.4 1051.5L1321 1074.1L1298.4 1096.7L1275.8 1074.1Z" fill="none" stroke="#f00" stroke-width="2.2"/>
<path d="M1281.2 1096.1L1279.9 1094.8L1302.5 1072.2L1325.1 1094.8L1323.8 1096.1Z" fill="#f00"/><path d="M1281.2 1096.1L1302.5 1117.4L1323.8 1096.1Z" fill="#fff"/><path d="M1302.5 1072.2L1325.1 1094.8L1302.5 1117.4L1279.9 1094.8Z" fill="none" stroke="#f00" stroke-width="2.2"/>
<path d="M1329.6 946.5L1328.3 945.2L1350.9 922.6L1373.5 945.2L1372.2 946.5Z" fill="#f00"/><path d="M1329.6 946.5L1350.9 967.8L1372.2 946.5Z" fill="#fff"/><path d="M1350.9 922.6L1373.5 945.2L1350.9 967.8L1328.3 945.2Z" fill="none" stroke="#f00" stroke-width="2.2"/>
<path d="M1371.7 960.7L1370.4 959.4L1393 936.8L1415.6 959.4L1414.3 960.7Z" fill="#f00"/><path d="M1371.7 960.7L1393 982L1414.3 960.7Z" fill="#fff"/><path d="M1393 936.8L1415.6 959.4L1393 982L1370.4 959.4Z" fill="none" stroke="#f00" stroke-width="2.2"/>
<path d="M1374.1 993L1372.8 991.7L1395.4 969.1L1418 991.7L1416.7 993Z" fill="#f00"/><path d="M1374.1 993L1395.4 1014.3L1416.7 993Z" fill="#fff"/><path d="M1395.4 969.1L1418 991.7L1395.4 1014.3L1372.8 991.7Z" fill="none" stroke="#f00" stroke-width="2.2"/>
<path d="M1308.3 999.5L1307 998.2L1329.6 975.6L1352.2 998.2L1350.9 999.5Z" fill="#f00"/><path d="M1308.3 999.5L1329.6 1020.8L1350.9 999.5Z" fill="#fff"/><path d="M1329.6 975.6L1352.2 998.2L1329.6 1020.8L1307 998.2Z" fill="none" stroke="#f00" stroke-width="2.2"/>
<path d="M1329.6 1016.7L1328.3 1015.4L1350.9 992.8L1373.5 1015.4L1372.2 1016.7Z" fill="#f00"/><path d="M1329.6 1016.7L1350.9 1038L1372.2 1016.7Z" fill="#fff"/><path d="M1350.9 992.8L1373.5 1015.4L1350.9 1038L1328.3 1015.4Z" fill="none" stroke="#f00" stroke-width="2.2"/>
<path d="M1393.1 1004.2L1391.8 1002.9L1414.4 980.3L1437 1002.9L1435.7 1004.2Z" fill="#f00"/><path d="M1393.1 1004.2L1414.4 1025.5L1435.7 1004.2Z" fill="#fff"/><path d="M1414.4 980.3L1437 1002.9L1414.4 1025.5L1391.8 1002.9Z" fill="none" stroke="#f00" stroke-width="2.2"/>
<path d="M1374.1 1019.3L1372.8 1018L1395.4 995.4L1418 1018L1416.7 1019.3Z" fill="#f00"/><path d="M1374.1 1019.3L1395.4 1040.6L1416.7 1019.3Z" fill="#fff"/><path d="M1395.4 995.4L1418 1018L1395.4 1040.6L1372.8 1018Z" fill="none" stroke="#f00" stroke-width="2.2"/>
<path d="M1396.7 1021.3L1395.4 1020L1418 997.4L1440.6 1020L1439.3 1021.3Z" fill="#f00"/><path d="M1396.7 1021.3L1418 1042.6L1439.3 1021.3Z" fill="#fff"/><path d="M1418 997.4L1440.6 1020L1418 1042.6L1395.4 1020Z" fill="none" stroke="#f00" stroke-width="2.2"/>
<path d="M1363.2 1035.4L1361.9 1034.1L1384.5 1011.5L1407.1 1034.1L1405.8 1035.4Z" fill="#f00"/><path d="M1363.2 1035.4L1384.5 1056.7L1405.8 1035.4Z" fill="#fff"/><path d="M1384.5 1011.5L1407.1 1034.1L1384.5 1056.7L1361.9 1034.1Z" fill="none" stroke="#f00" stroke-width="2.2"/>
<path d="M1389.7 1039.3L1388.4 1038L1411 1015.4L1433.6 1038L1432.3 1039.3Z" fill="#f00"/><path d="M1389.7 1039.3L1411 1060.6L1432.3 1039.3Z" fill="#fff"/><path d="M1411 1015.4L1433.6 1038L1411 1060.6L1388.4 1038Z" fill="none" stroke="#f00" stroke-width="2.2"/>
<path d="M1345.4 1073.9L1344.1 1072.6L1366.7 1050L1389.3 1072.6L1388 1073.9Z" fill="#f00"/><path d="M1345.4 1073.9L1366.7 1095.2L1388 1073.9Z" fill="#fff"/><path d="M1366.7 1050L1389.3 1072.6L1366.7 1095.2L1344.1 1072.6Z" fill="none" stroke="#f00" stroke-width="2.2"/>
<path d="M1395.7 1103.6L1394.4 1102.3L1417 1079.7L1439.6 1102.3L1438.3 1103.6Z" fill="#f00"/><path d="M1395.7 1103.6L1417 1124.9L1438.3 1103.6Z" fill="#fff"/><path d="M1417 1079.7L1439.6 1102.3L1417 1124.9L1394.4 1102.3Z" fill="none" stroke="#f00" stroke-width="2.2"/>
<path d="M1425.1 1031.5L1423.8 1030.2L1446.4 1007.6L1469 1030.2L1467.7 1031.5Z" fill="#f00"/><path d="M1425.1 1031.5L1446.4 1052.8L1467.7 1031.5Z" fill="#fff"/><path d="M1446.4 1007.6L1469 1030.2L1446.4 1052.8L1423.8 1030.2Z" fill="none" stroke="#f00" stroke-width="2.2"/>
<path d="M1424.5 1043.4L1423.2 1042.1L1445.8 1019.5L1468.4 1042.1L1467.1 1043.4Z" fill="#f00"/><path d="M1424.5 1043.4L1445.8 1064.7L1467.1 1043.4Z" fill="#fff"/><path d="M1445.8 1019.5L1468.4 1042.1L1445.8 1064.7L1423.2 1042.1Z" fill="none" stroke="#f00" stroke-width="2.2"/>
<path d="M1374.1 1061.1L1372.8 1059.8L1395.4 1037.2L1418 1059.8L1416.7 1061.1Z" fill="#f00"/><path d="M1374.1 1061.1L1395.4 1082.4L1416.7 1061.1Z" fill="#fff"/><path d="M1395.4 1037.2L1418 1059.8L1395.4 1082.4L1372.8 1059.8Z" fill="none" stroke="#f00" stroke-width="2.2"/>
<path d="M1329.6 1057.6L1328.3 1056.3L1350.9 1033.7L1373.5 1056.3L1372.2 1057.6Z" fill="#f00"/><path d="M1329.6 1057.6L1350.9 1078.9L1372.2 1057.6Z" fill="#fff"/><path d="M1350.9 1033.7L1373.5 1056.3L1350.9 1078.9L1328.3 1056.3Z" fill="none" stroke="#f00" stroke-width="2.2"/>
<path d="M1404.9 1061.1L1403.6 1059.8L1426.2 1037.2L1448.8 1059.8L1447.5 1061.1Z" fill="#f00"/><path d="M1404.9 1061.1L1426.2 1082.4L1447.5 1061.1Z" fill="#fff"/><path d="M1426.2 1037.2L1448.8 1059.8L1426.2 1082.4L1403.6 1059.8Z" fill="none" stroke="#f00" stroke-width="2.2"/>
<path d="M1374.1 1080.7L1372.8 1079.4L1395.4 1056.8L1418 1079.4L1416.7 1080.7Z" fill="#f00"/><path d="M1374.1 1080.7L1395.4 1102L1416.7 1080.7Z" fill="#fff"/><path d="M1395.4 1056.8L1418 1079.4L1395.4 1102L1372.8 1079.4Z" fill="none" stroke="#f00" stroke-width="2.2"/>
<path d="M1404.3 1095.5L1403 1094.2L1425.6 1071.6L1448.2 1094.2L1446.9 1095.5Z" fill="#f00"/><path d="M1404.3 1095.5L1425.6 1116.8L1446.9 1095.5Z" fill="#fff"/><path d="M1425.6 1071.6L1448.2 1094.2L1425.6 1116.8L1403 1094.2Z" fill="none" stroke="#f00" stroke-width="2.2"/>
<path d="M1324.3 1084.3L1323 1083L1345.6 1060.4L1368.2 1083L1366.9 1084.3Z" fill="#f00"/><path d="M1324.3 1084.3L1345.6 1105.6L1366.9 1084.3Z" fill="#fff"/><path d="M1345.6 1060.4L1368.2 1083L1345.6 1105.6L1323 1083Z" fill="none" stroke="#f00" stroke-width="2.2"/>
<path d="M1329.6 1102.1L1328.3 1100.8L1350.9 1078.2L1373.5 1100.8L1372.2 1102.1Z" fill="#f00"/><path d="M1329.6 1102.1L1350.9 1123.4L1372.2 1102.1Z" fill="#fff"/><path d="M1350.9 1078.2L1373.5 1100.8L1350.9 1123.4L1328.3 1100.8Z" fill="none" stroke="#f00" stroke-width="2.2"/>
<path d="M1018 1004.2L1016.7 1002.9L1039.3 980.3L1061.9 1002.9L1060.6 1004.2Z" fill="#f00"/><path d="M1018 1004.2L1039.3 1025.5L1060.6 1004.2Z" fill="#fff"/><path d="M1039.3 980.3L1061.9 1002.9L1039.3 1025.5L1016.7 1002.9Z" fill="none" stroke="#f00" stroke-width="2.2"/>
<path d="M1018 1030.1L1016.7 1028.8L1039.3 1006.2L1061.9 1028.8L1060.6 1030.1Z" fill="#f00"/><path d="M1018 1030.1L1039.3 1051.4L1060.6 1030.1Z" fill="#fff"/><path d="M1039.3 1006.2L1061.9 1028.8L1039.3 1051.4L1016.7 1028.8Z" fill="none" stroke="#f00" stroke-width="2.2"/>
<path d="M1007.4 1018.3L1006.1 1017L1028.7 994.4L1051.3 1017L1050 1018.3Z" fill="#f00"/><path d="M1007.4 1018.3L1028.7 1039.6L1050 1018.3Z" fill="#fff"/><path d="M1028.7 994.4L1051.3 1017L1028.7 1039.6L1006.1 1017Z" fill="none" stroke="#f00" stroke-width="2.2"/>
<path d="M1056.2 1018.3L1054.9 1017L1077.5 994.4L1100.1 1017L1098.8 1018.3Z" fill="#f00"/><path d="M1056.2 1018.3L1077.5 1039.6L1098.8 1018.3Z" fill="#fff"/><path d="M1077.5 994.4L1100.1 1017L1077.5 1039.6L1054.9 1017Z" fill="none" stroke="#f00" stroke-width="2.2"/>
<path d="M1007.4 1061.7L1006.1 1060.4L1028.7 1037.8L1051.3 1060.4L1050 1061.7Z" fill="#f00"/><path d="M1007.4 1061.7L1028.7 1083L1050 1061.7Z" fill="#fff"/><path d="M1028.7 1037.8L1051.3 1060.4L1028.7 1083L1006.1 1060.4Z" fill="none" stroke="#f00" stroke-width="2.2"/>
<path d="M1056.2 1061.7L1054.9 1060.4L1077.5 1037.8L1100.1 1060.4L1098.8 1061.7Z" fill="#f00"/><path d="M1056.2 1061.7L1077.5 1083L1098.8 1061.7Z" fill="#fff"/><path d="M1077.5 1037.8L1100.1 1060.4L1077.5 1083L1054.9 1060.4Z" fill="none" stroke="#f00" stroke-width="2.2"/>
<path d="M1093.1 1109.8L1091.8 1108.5L1114.4 1085.9L1137 1108.5L1135.7 1109.8Z" fill="#f00"/><path d="M1093.1 1109.8L1114.4 1131.1L1135.7 1109.8Z" fill="#fff"/><path d="M1114.4 1085.9L1137 1108.5L1114.4 1131.1L1091.8 1108.5Z" fill="none" stroke="#f00" stroke-width="2.2"/>
<path d="M1135.2 1120.4L1133.9 1119.1L1156.5 1096.5L1179.1 1119.1L1177.8 1120.4Z" fill="#f00"/><path d="M1135.2 1120.4L1156.5 1141.7L1177.8 1120.4Z" fill="#fff"/><path d="M1156.5 1096.5L1179.1 1119.1L1156.5 1141.7L1133.9 1119.1Z" fill="none" stroke="#f00" stroke-width="2.2"/>
<path d="M1130.5 1166.3L1129.2 1165L1151.8 1142.4L1174.4 1165L1173.1 1166.3Z" fill="#f00"/><path d="M1130.5 1166.3L1151.8 1187.6L1173.1 1166.3Z" fill="#fff"/><path d="M1151.8 1142.4L1174.4 1165L1151.8 1187.6L1129.2 1165Z" fill="none" stroke="#f00" stroke-width="2.2"/>
<path d="M1093.2 1183L1091.9 1181.7L1114.5 1159.1L1137.1 1181.7L1135.8 1183Z" fill="#f00"/><path d="M1093.2 1183L1114.5 1204.3L1135.8 1183Z" fill="#fff"/><path d="M1114.5 1159.1L1137.1 1181.7L1114.5 1204.3L1091.9 1181.7Z" fill="none" stroke="#f00" stroke-width="2.2"/>
<path d="M1131.8 1211.1L1130.5 1209.8L1153.1 1187.2L1175.7 1209.8L1174.4 1211.1Z" fill="#f00"/><path d="M1131.8 1211.1L1153.1 1232.4L1174.4 1211.1Z" fill="#fff"/><path d="M1153.1 1187.2L1175.7 1209.8L1153.1 1232.4L1130.5 1209.8Z" fill="none" stroke="#f00" stroke-width="2.2"/>
<path d="M1130.5 1219.2L1129.2 1217.9L1151.8 1195.3L1174.4 1217.9L1173.1 1219.2Z" fill="#f00"/><path d="M1130.5 1219.2L1151.8 1240.5L1173.1 1219.2Z" fill="#fff"/><path d="M1151.8 1195.3L1174.4 1217.9L1151.8 1240.5L1129.2 1217.9Z" fill="none" stroke="#f00" stroke-width="2.2"/>
<path d="M1204.5 1219.9L1203.2 1218.6L1225.8 1196L1248.4 1218.6L1247.1 1219.9Z" fill="#f00"/><path d="M1204.5 1219.9L1225.8 1241.2L1247.1 1219.9Z" fill="#fff"/><path d="M1225.8 1196L1248.4 1218.6L1225.8 1241.2L1203.2 1218.6Z" fill="none" stroke="#f00" stroke-width="2.2"/>
<path d="M1200.6 1228.5L1199.3 1227.2L1221.9 1204.6L1244.5 1227.2L1243.2 1228.5Z" fill="#f00"/><path d="M1200.6 1228.5L1221.9 1249.8L1243.2 1228.5Z" fill="#fff"/><path d="M1221.9 1204.6L1244.5 1227.2L1221.9 1249.8L1199.3 1227.2Z" fill="none" stroke="#f00" stroke-width="2.2"/>
<path d="M1283 1116.8L1281.7 1115.5L1304.3 1092.9L1326.9 1115.5L1325.6 1116.8Z" fill="#f00"/><path d="M1283 1116.8L1304.3 1138.1L1325.6 1116.8Z" fill="#fff"/><path d="M1304.3 1092.9L1326.9 1115.5L1304.3 1138.1L1281.7 1115.5Z" fill="none" stroke="#f00" stroke-width="2.2"/>
<path d="M1295.1 1113.6L1293.8 1112.3L1316.4 1089.7L1339 1112.3L1337.7 1113.6Z" fill="#f00"/><path d="M1295.1 1113.6L1316.4 1134.9L1337.7 1113.6Z" fill="#fff"/><path d="M1316.4 1089.7L1339 1112.3L1316.4 1134.9L1293.8 1112.3Z" fill="none" stroke="#f00" stroke-width="2.2"/>
<path d="M1297.3 1082L1296 1080.7L1318.6 1058.1L1341.2 1080.7L1339.9 1082Z" fill="#f00"/><path d="M1297.3 1082L1318.6 1103.3L1339.9 1082Z" fill="#fff"/><path d="M1318.6 1058.1L1341.2 1080.7L1318.6 1103.3L1296 1080.7Z" fill="none" stroke="#f00" stroke-width="2.2"/>
<path d="M1329.1 1104.5L1327.8 1103.2L1350.4 1080.6L1373 1103.2L1371.7 1104.5Z" fill="#f00"/><path d="M1329.1 1104.5L1350.4 1125.8L1371.7 1104.5Z" fill="#fff"/><path d="M1350.4 1080.6L1373 1103.2L1350.4 1125.8L1327.8 1103.2Z" fill="none" stroke="#f00" stroke-width="2.2"/>
<path d="M1345.5 1134.2L1344.2 1132.9L1366.8 1110.3L1389.4 1132.9L1388.1 1134.2Z" fill="#f00"/><path d="M1345.5 1134.2L1366.8 1155.5L1388.1 1134.2Z" fill="#fff"/><path d="M1366.8 1110.3L1389.4 1132.9L1366.8 1155.5L1344.2 1132.9Z" fill="none" stroke="#f00" stroke-width="2.2"/>
<path d="M1311 1154.5L1309.7 1153.2L1332.3 1130.6L1354.9 1153.2L1353.6 1154.5Z" fill="#f00"/><path d="M1311 1154.5L1332.3 1175.8L1353.6 1154.5Z" fill="#fff"/><path d="M1332.3 1130.6L1354.9 1153.2L1332.3 1175.8L1309.7 1153.2Z" fill="none" stroke="#f00" stroke-width="2.2"/>
<path d="M1299.4 1181.3L1298.1 1180L1320.7 1157.4L1343.3 1180L1342 1181.3Z" fill="#f00"/><path d="M1299.4 1181.3L1320.7 1202.6L1342 1181.3Z" fill="#fff"/><path d="M1320.7 1157.4L1343.3 1180L1320.7 1202.6L1298.1 1180Z" fill="none" stroke="#f00" stroke-width="2.2"/>
<path d="M1348.7 1168.5L1347.4 1167.2L1370 1144.6L1392.6 1167.2L1391.3 1168.5Z" fill="#f00"/><path d="M1348.7 1168.5L1370 1189.8L1391.3 1168.5Z" fill="#fff"/><path d="M1370 1144.6L1392.6 1167.2L1370 1189.8L1347.4 1167.2Z" fill="none" stroke="#f00" stroke-width="2.2"/>
<path d="M1377.7 1177.2L1376.4 1175.9L1399 1153.3L1421.6 1175.9L1420.3 1177.2Z" fill="#f00"/><path d="M1377.7 1177.2L1399 1198.5L1420.3 1177.2Z" fill="#fff"/><path d="M1399 1153.3L1421.6 1175.9L1399 1198.5L1376.4 1175.9Z" fill="none" stroke="#f00" stroke-width="2.2"/>
<path d="M1348.7 1201.6L1347.4 1200.3L1370 1177.7L1392.6 1200.3L1391.3 1201.6Z" fill="#f00"/><path d="M1348.7 1201.6L1370 1222.9L1391.3 1201.6Z" fill="#fff"/><path d="M1370 1177.7L1392.6 1200.3L1370 1222.9L1347.4 1200.3Z" fill="none" stroke="#f00" stroke-width="2.2"/>
<path d="M1311 1221.9L1309.7 1220.6L1332.3 1198L1354.9 1220.6L1353.6 1221.9Z" fill="#f00"/><path d="M1311 1221.9L1332.3 1243.2L1353.6 1221.9Z" fill="#fff"/><path d="M1332.3 1198L1354.9 1220.6L1332.3 1243.2L1309.7 1220.6Z" fill="none" stroke="#f00" stroke-width="2.2"/>
<path d="M1348.7 1223.3L1347.4 1222L1370 1199.4L1392.6 1222L1391.3 1223.3Z" fill="#f00"/><path d="M1348.7 1223.3L1370 1244.6L1391.3 1223.3Z" fill="#fff"/><path d="M1370 1199.4L1392.6 1222L1370 1244.6L1347.4 1222Z" fill="none" stroke="#f00" stroke-width="2.2"/>
<path d="M1341.5 1224.5L1340.2 1223.2L1362.8 1200.6L1385.4 1223.2L1384.1 1224.5Z" fill="#f00"/><path d="M1341.5 1224.5L1362.8 1245.8L1384.1 1224.5Z" fill="#fff"/><path d="M1362.8 1200.6L1385.4 1223.2L1362.8 1245.8L1340.2 1223.2Z" fill="none" stroke="#f00" stroke-width="2.2"/>
<path d="M1393.6 1194.8L1392.3 1193.5L1414.9 1170.9L1437.5 1193.5L1436.2 1194.8Z" fill="#f00"/><path d="M1393.6 1194.8L1414.9 1216.1L1436.2 1194.8Z" fill="#fff"/><path d="M1414.9 1170.9L1437.5 1193.5L1414.9 1216.1L1392.3 1193.5Z" fill="none" stroke="#f00" stroke-width="2.2"/>
<path d="M1423.3 1184.9L1422 1183.6L1444.6 1161L1467.2 1183.6L1465.9 1184.9Z" fill="#f00"/><path d="M1423.3 1184.9L1444.6 1206.2L1465.9 1184.9Z" fill="#fff"/><path d="M1444.6 1161L1467.2 1183.6L1444.6 1206.2L1422 1183.6Z" fill="none" stroke="#f00" stroke-width="2.2"/>
<path d="M1422.6 1192.6L1421.3 1191.3L1443.9 1168.7L1466.5 1191.3L1465.2 1192.6Z" fill="#f00"/><path d="M1422.6 1192.6L1443.9 1213.9L1465.2 1192.6Z" fill="#fff"/><path d="M1443.9 1168.7L1466.5 1191.3L1443.9 1213.9L1421.3 1191.3Z" fill="none" stroke="#f00" stroke-width="2.2"/>
<path d="M1403.5 1142.9L1402.2 1141.6L1424.8 1119L1447.4 1141.6L1446.1 1142.9Z" fill="#f00"/><path d="M1403.5 1142.9L1424.8 1164.2L1446.1 1142.9Z" fill="#fff"/><path d="M1424.8 1119L1447.4 1141.6L1424.8 1164.2L1402.2 1141.6Z" fill="none" stroke="#f00" stroke-width="2.2"/>
<path d="M1413.9 1155.8L1412.6 1154.5L1435.2 1131.9L1457.8 1154.5L1456.5 1155.8Z" fill="#f00"/><path d="M1413.9 1155.8L1435.2 1177.1L1456.5 1155.8Z" fill="#fff"/><path d="M1435.2 1131.9L1457.8 1154.5L1435.2 1177.1L1412.6 1154.5Z" fill="none" stroke="#f00" stroke-width="2.2"/>
<path d="M1413.9 1111.7L1412.6 1110.4L1435.2 1087.8L1457.8 1110.4L1456.5 1111.7Z" fill="#f00"/><path d="M1413.9 1111.7L1435.2 1133L1456.5 1111.7Z" fill="#fff"/><path d="M1435.2 1087.8L1457.8 1110.4L1435.2 1133L1412.6 1110.4Z" fill="none" stroke="#f00" stroke-width="2.2"/>
<path d="M1377.7 1079.6L1376.4 1078.3L1399 1055.7L1421.6 1078.3L1420.3 1079.6Z" fill="#f00"/><path d="M1377.7 1079.6L1399 1100.9L1420.3 1079.6Z" fill="#fff"/><path d="M1399 1055.7L1421.6 1078.3L1399 1100.9L1376.4 1078.3Z" fill="none" stroke="#f00" stroke-width="2.2"/>
</g>
<path d="M294.1 285.3L348.9 300.8M396.7 314.8L449.5 332.6M495.9 351L548.6 371.8M595.6 389.9L646.5 413.3M691.4 435.8L740.6 462.5M783.1 487.2L832 516.4M868.5 540.3L917.2 570.9M956.5 601.2L999.9 632.1M1036.5 659.3L1078.7 691M1113.2 721.4L1154.9 754.2M1188.5 790.2L1232.3 819.8M1259.6 850.6L1304.7 886.2M1337.2 917.3L1375.6 953.5M1409.7 986.1L1445 1020.4" fill="none" stroke="#00f" stroke-width="11.4"/>
<rect x="265" y="1466.3" width="969.7" height="212" fill="#fff" stroke="#000" stroke-width="2"/>
<rect x="265" y="1257" width="969.7" height="206.6" fill="#fff" stroke="#000" stroke-width="2"/>
<path d="M326.5 1306.8L325.2 1305.5L347.8 1282.9L370.4 1305.5L369.1 1306.8Z" fill="#f00"/><path d="M326.5 1306.8L347.8 1328.1L369.1 1306.8Z" fill="#fff"/><path d="M347.8 1282.9L370.4 1305.5L347.8 1328.1L325.2 1305.5Z" fill="none" stroke="#f00" stroke-width="2.2"/>
<path d="M269 1395.8H326M376.2 1395.8H426.2" stroke="#00f" stroke-width="11.5"/>
<path d="M347.6 1493.5L327.8 1507.9L330.2 1515.3L365 1515.3L367.4 1507.9Z" fill="#000"/><path d="M330.2 1515.3L335.4 1531.1L359.8 1531.1L365 1515.3Z" fill="#fff"/><path d="M347.6 1493.5L327.8 1507.9L335.4 1531.1L359.8 1531.1L367.4 1507.9Z" fill="none" stroke="#000" stroke-width="2.2" stroke-linejoin="miter"/>
<path d="M269 1604.3H426.7" stroke="#000" stroke-width="12"/>
<text x="455.6" y="1331.6" font-size="73.5">Fourth group</text>
<text x="456.2" y="1541.5" font-size="73.5">Fifth group</text>
<text y="1421.9" font-size="73.5"><tspan x="457.5" textLength="570.8" lengthAdjust="spacingAndGlyphs">The fitting curve of</tspan><tspan x="1042.9" font-style="italic">M</tspan><tspan x="1105.9" font-size="50" dy="19.5">S</tspan><tspan x="1133.5" dy="-19.5">5.0</tspan></text>
<text y="1631.9" font-size="73.5"><tspan x="457.5" textLength="570.8" lengthAdjust="spacingAndGlyphs">The fitting curve of</tspan><tspan x="1042.9" font-style="italic">M</tspan><tspan x="1105.9" font-size="50" dy="19.5">S</tspan><tspan x="1133.5" dy="-19.5">5.5</tspan></text>
<path d="M261.8 1675.6H231M261.8 1074.9H231M261.8 474.2H231M261.8 1494.8H246.9M261.8 1389H246.9M261.8 1313.9H246.9M261.8 1255.7H246.9M261.8 1208.2H246.9M261.8 1167.9H246.9M261.8 1133.1H246.9M261.8 1102.4H246.9M261.8 894.1H246.9M261.8 788.3H246.9M261.8 713.2H246.9M261.8 655H246.9M261.8 607.5H246.9M261.8 567.2H246.9M261.8 532.4H246.9M261.8 501.7H246.9M261.8 293.4H246.9M261.8 187.6H246.9M261.8 112.5H246.9M261.8 54.3H246.9M261.7 1675.7V1706.2M344.1 1675.7V1706.2M600.2 1675.7V1706.2M856.3 1675.7V1706.2M1006.1 1675.7V1706.2M1112.4 1675.7V1706.2M1194.8 1675.7V1706.2M1450.9 1675.7V1706.2M411.5 1675.7V1690.4M468.4 1675.7V1690.4M517.8 1675.7V1690.4M561.3 1675.7V1690.4M750 1675.7V1690.4M938.7 1675.7V1690.4M1063 1675.7V1690.4M1155.9 1675.7V1690.4M1262.2 1675.7V1690.4M1319.1 1675.7V1690.4M1368.5 1675.7V1690.4M1412 1675.7V1690.4" stroke="#000" stroke-width="5.8" fill="none"/>
<text transform="translate(208 1703) scale(0.93 1)" font-size="70" text-anchor="end">1</text>
<text transform="translate(210.6 1101.6) scale(0.93 1)" font-size="70" text-anchor="end">10</text>
<text transform="translate(209.5 501.5) scale(0.93 1)" font-size="70" text-anchor="end">100</text>
<text transform="translate(221.1 72.2) scale(0.93 1)" font-size="70" text-anchor="end">500</text>
<text transform="translate(261.9 1784.3) scale(0.93 1)" font-size="70" text-anchor="middle">4</text>
<text transform="translate(344.3 1784.3) scale(0.93 1)" font-size="70" text-anchor="middle">5</text>
<text transform="translate(600.4 1784.3) scale(0.93 1)" font-size="70" text-anchor="middle">10</text>
<text transform="translate(856.5 1784.3) scale(0.93 1)" font-size="70" text-anchor="middle">20</text>
<text transform="translate(1006.3 1784.3) scale(0.93 1)" font-size="70" text-anchor="middle">30</text>
<text transform="translate(1112.6 1784.3) scale(0.93 1)" font-size="70" text-anchor="middle">40</text>
<text transform="translate(1195 1784.3) scale(0.93 1)" font-size="70" text-anchor="middle">50</text>
<text transform="translate(1451.1 1784.3) scale(0.93 1)" font-size="70" text-anchor="middle">100</text>
<text y="1889.6"><tspan x="793.5" font-size="82" textLength="37.88" lengthAdjust="spacingAndGlyphs">R</tspan><tspan x="836.1" dy="5.5" font-size="101.7" textLength="33.51" lengthAdjust="spacingAndGlyphs">/</tspan><tspan x="874.7" dy="-5.5" font-size="82" textLength="37.11" lengthAdjust="spacingAndGlyphs">k</tspan><tspan x="913.7" font-size="82" textLength="41.47" lengthAdjust="spacingAndGlyphs">m</tspan></text>
<text transform="translate(81.5 0) rotate(-90)" y="0"><tspan x="-1006.2" font-size="82" textLength="39.57" lengthAdjust="spacingAndGlyphs">P</tspan><tspan x="-965.5" font-size="82" textLength="40.03" lengthAdjust="spacingAndGlyphs">G</tspan><tspan x="-924.9" font-size="82" textLength="39.00" lengthAdjust="spacingAndGlyphs">A</tspan><tspan x="-882.3" dy="5.7" font-size="100" textLength="32.51" lengthAdjust="spacingAndGlyphs">/</tspan><tspan x="-843.9" dy="-5.7" font-size="82" textLength="36.31" lengthAdjust="spacingAndGlyphs">g</tspan><tspan x="-804.5" font-size="82" textLength="39.48" lengthAdjust="spacingAndGlyphs">a</tspan><tspan x="-757.7" font-size="82" textLength="27.60" lengthAdjust="spacingAndGlyphs">l</tspan></text>
</svg></body></html>
